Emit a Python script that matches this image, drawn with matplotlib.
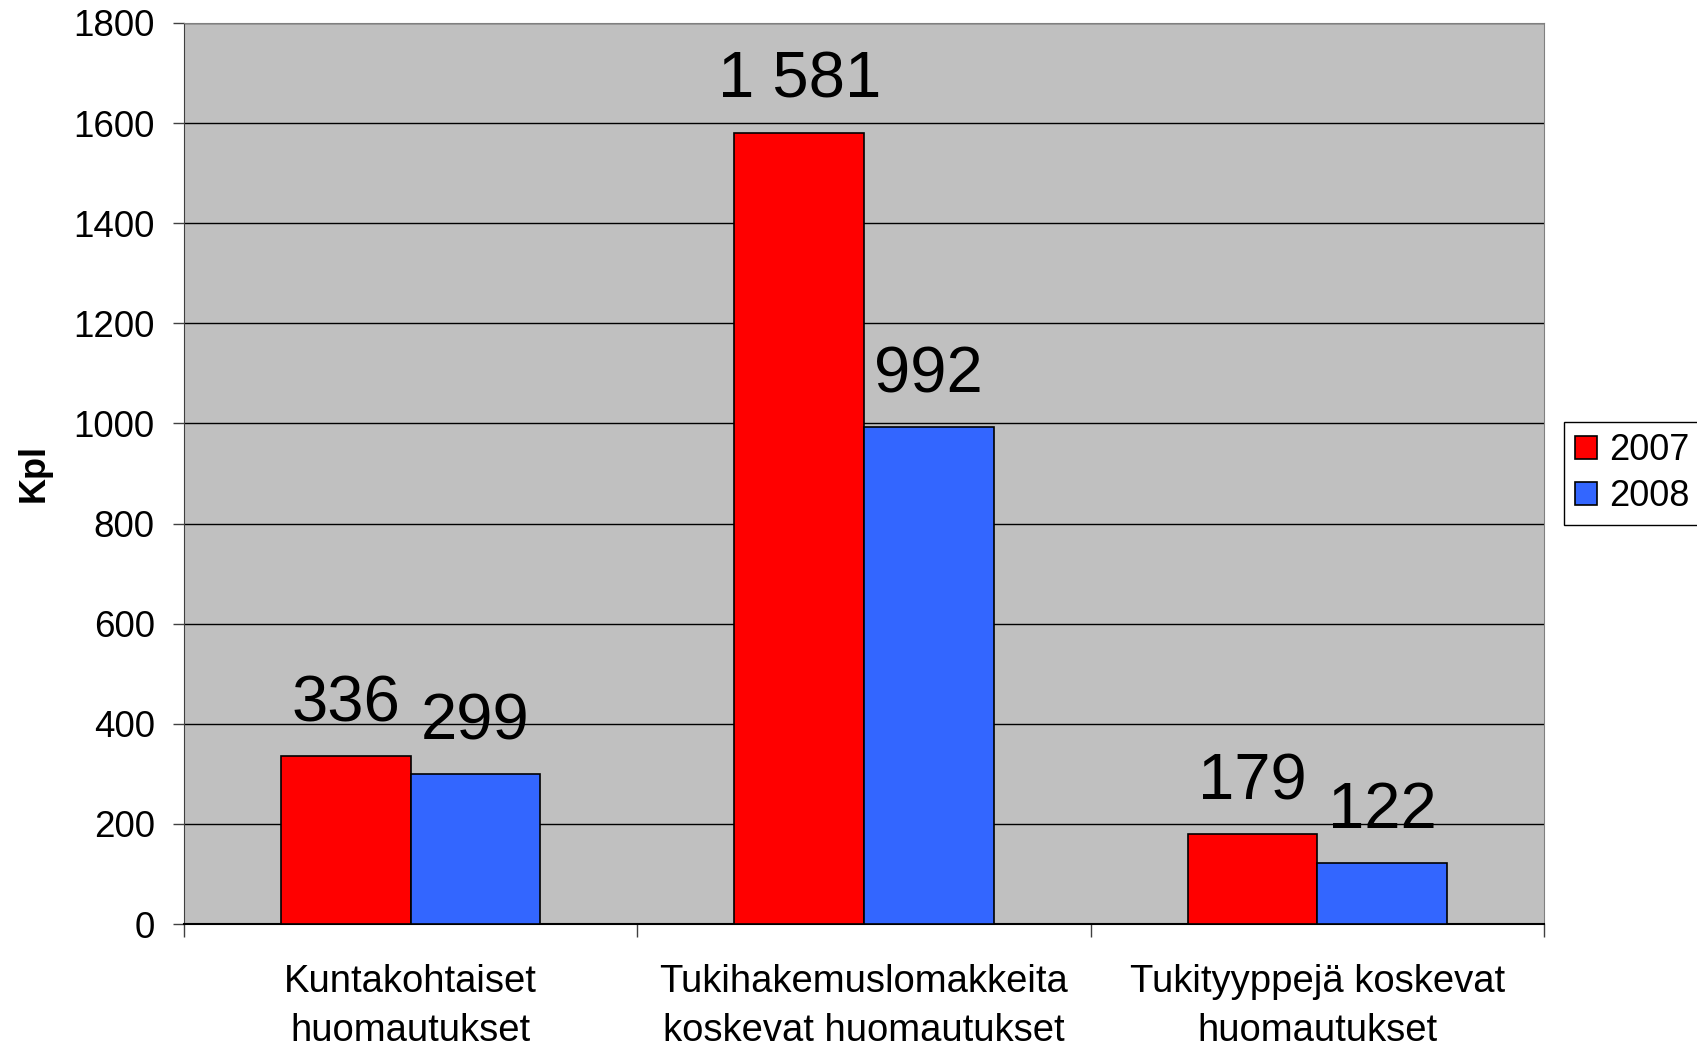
import matplotlib.pyplot as plt
from matplotlib.ticker import FixedLocator

# Data
categories = ['Kuntakohtaiset\nhuomautukset',
              'Tukihakemuslomakkeita\nkoskevat huomautukset',
              'Tukityyppejä koskevat\nhuomautukset']
years = ['2007', '2008']
values_2007 = [336, 1581, 179]
values_2008 = [299, 992, 122]
yticks = [0, 200, 400, 600, 800, 1000, 1200, 1400, 1600, 1800]

plt.rcParams['font.family'] = ['Liberation Sans', 'DejaVu Sans']

fig = plt.figure(figsize=(16.97, 10.48), dpi=100)
ax = fig.add_axes([184 / 1697, 1 - 924 / 1048, 1360 / 1697, 901 / 1048])
ax.set_facecolor('#C0C0C0')

w = 1 / 3.5
x = list(range(len(categories)))
bars1 = ax.bar([i - w / 2 for i in x], values_2007, w, color='#FF0000',
               edgecolor='black', linewidth=1.2, label=years[0], zorder=3)
bars2 = ax.bar([i + w / 2 for i in x], values_2008, w, color='#3366FF',
               edgecolor='black', linewidth=1.2, label=years[1], zorder=3)


def fmt(v):
    return '{:,}'.format(v).replace(',', ' ')


for bars, vals in ((bars1, values_2007), (bars2, values_2008)):
    for b, v in zip(bars, vals):
        ax.annotate(fmt(v), (b.get_x() + b.get_width() / 2, v),
                    xytext=(0, 25), textcoords='offset points',
                    ha='center', va='baseline', fontsize=47, zorder=4)

ax.set_xlim(-0.5, 2.5)
ax.set_ylim(0, 1800)
ax.set_yticks(yticks)
ax.set_yticklabels([str(t) for t in yticks])
ax.tick_params(axis='y', labelsize=26.5, length=8, width=1, pad=13,
               color='#404040')
ax.yaxis.grid(True, color='black', linewidth=1)
ax.set_axisbelow(True)

# category boundaries as major ticks, labels on minor ticks
ax.xaxis.set_major_locator(FixedLocator([-0.5, 0.5, 1.5, 2.5]))
ax.set_xticklabels([])
ax.set_xticks(x, minor=True)
ax.set_xticklabels(categories, minor=True, fontsize=27.5, linespacing=1.45)
ax.tick_params(axis='x', which='major', length=9, width=1, color='#404040')
ax.tick_params(axis='x', which='minor', length=0, pad=29)

for side in ('top', 'right'):
    ax.spines[side].set_color('#808080')
ax.spines['left'].set_color('#404040')
ax.spines['bottom'].set_color('black')
ax.spines['bottom'].set_linewidth(1.5)

fig.text(34 / 1697, 1 - 473 / 1048, 'Kpl', rotation=90, fontsize=26,
         fontweight='bold', ha='center', va='center')

leg = ax.legend(loc='upper left', bbox_to_anchor=(1564 / 1697, 1 - 422 / 1048),
                bbox_transform=fig.transFigure, borderaxespad=0, fontsize=26,
                fancybox=False, edgecolor='black', framealpha=1,
                handlelength=0.6, handleheight=0.6, handletextpad=0.35,
                borderpad=0.3, labelspacing=0.32)
leg.get_frame().set_linewidth(1)

fig.savefig('out.png', dpi=100)
